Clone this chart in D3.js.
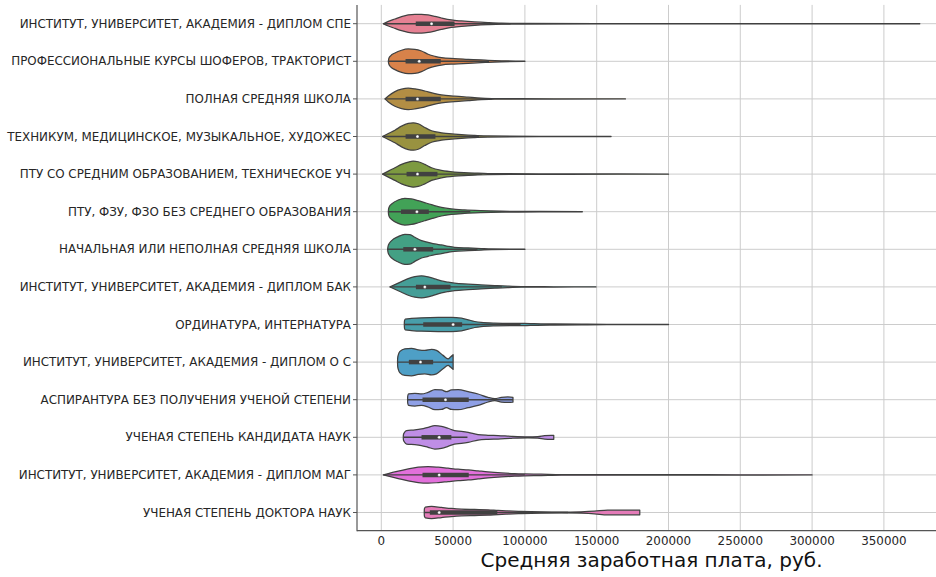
<!DOCTYPE html>
<html><head><meta charset="utf-8">
<script src="https://cdn.jsdelivr.net/npm/d3@7/dist/d3.min.js"></script>
<style>html,body{margin:0;padding:0;background:#fff}svg{display:block}</style>
</head><body>
<svg id="chart" width="936" height="577"></svg>
<script>
// ---------------- DATA ----------------
const categories = [
  "ИНСТИТУТ, УНИВЕРСИТЕТ, АКАДЕМИЯ - ДИПЛОМ СПЕ",
  "ПРОФЕССИОНАЛЬНЫЕ КУРСЫ ШОФЕРОВ, ТРАКТОРИСТ",
  "ПОЛНАЯ СРЕДНЯЯ ШКОЛА",
  "ТЕХНИКУМ, МЕДИЦИНСКОЕ, МУЗЫКАЛЬНОЕ, ХУДОЖЕС",
  "ПТУ СО СРЕДНИМ ОБРАЗОВАНИЕМ, ТЕХНИЧЕСКОЕ УЧ",
  "ПТУ, ФЗУ, ФЗО БЕЗ СРЕДНЕГО ОБРАЗОВАНИЯ",
  "НАЧАЛЬНАЯ ИЛИ НЕПОЛНАЯ СРЕДНЯЯ ШКОЛА",
  "ИНСТИТУТ, УНИВЕРСИТЕТ, АКАДЕМИЯ - ДИПЛОМ БАК",
  "ОРДИНАТУРА, ИНТЕРНАТУРА",
  "ИНСТИТУТ, УНИВЕРСИТЕТ, АКАДЕМИЯ - ДИПЛОМ О С",
  "АСПИРАНТУРА БЕЗ ПОЛУЧЕНИЯ УЧЕНОЙ СТЕПЕНИ",
  "УЧЕНАЯ СТЕПЕНЬ КАНДИДАТА НАУК",
  "ИНСТИТУТ, УНИВЕРСИТЕТ, АКАДЕМИЯ - ДИПЛОМ МАГ",
  "УЧЕНАЯ СТЕПЕНЬ ДОКТОРА НАУК"
];

// density profiles: [salary, relative density]
const densityProfiles = [
  [[1400,0],[4900,2.3],[9500,4.7],[14100,7],[18750,8.7],[23400,9.3],[28000,9.3],[32600,8.7],[37300,7.3],[41900,5.7],[48800,3.7],[55800,2.7],[65000,1.7],[74300,1],[83600,0.5],[97500,0.3],[150000,0.15],[250000,0.1],[375000,0.05]],
  [[4900,0],[5300,3],[6500,5.5],[9500,8.3],[14100,11],[18750,12.3],[23400,12],[28000,10.3],[32600,7],[37300,5],[41900,3.7],[51000,2.7],[60500,2],[69500,1.3],[74300,1],[83600,0.5],[100000,0.1]],
  [[2500,0],[4900,3],[9500,7.3],[14100,9.7],[18750,10.7],[23400,10],[28000,8.7],[32600,7],[37300,5.3],[41900,4],[51000,2.7],[60500,1.7],[69500,0.8],[79000,0.3],[120000,0.12],[170000,0.05]],
  [[900,0],[4900,3],[9500,6.3],[14100,10.3],[18750,13],[22200,13.7],[25700,12.7],[30300,9],[35000,5.7],[41900,3.7],[51000,2.3],[60500,1.3],[65000,1],[74300,0.5],[110000,0.12],[160000,0.05]],
  [[900,0],[4900,3],[9500,6.3],[14100,9.7],[18750,12],[22200,13],[25700,12.3],[30300,9.7],[35000,6.3],[41900,3.7],[51000,2],[60500,1.3],[65000,1],[74300,0.5],[130000,0.15],[200000,0.08]],
  [[4900,0],[5100,3],[5900,5.8],[7200,7.7],[11800,11.7],[16400,13.3],[21000,12.7],[25700,11],[30300,9],[35000,7],[41900,4.3],[48800,2.7],[58100,1.7],[69500,1],[83600,0.5],[110000,0.2],[140000,0.08]],
  [[4400,0],[4700,3],[5600,6],[7200,8.7],[11800,12.7],[16400,15],[19900,14.7],[23400,12],[28000,8.7],[32600,7],[37300,5.3],[41900,4.3],[46500,3],[51000,2],[60500,1.3],[69500,0.7],[76600,0.3],[100000,0.08]],
  [[6000,0],[9500,2.3],[14100,5.3],[18750,8.3],[23400,10.3],[28000,11],[32600,10],[37300,8],[41900,6],[46500,4.7],[51000,3.7],[60500,2.7],[69500,2],[79000,1.3],[88000,0.7],[97500,0.3],[120000,0.15],[149500,0.05]],
  [[16000,0],[16150,3.5],[16700,5.3],[21000,6],[28000,6.7],[39600,7],[48800,7],[55800,6.3],[60500,4.7],[65000,3],[69500,2],[79000,1.3],[92800,1],[99700,1.2],[106500,0.8],[120500,0.5],[143700,0.3],[170000,0.2],[200000,0.08]],
  [[11300,0],[11400,4],[11900,7.5],[13000,10.7],[16400,13.3],[21000,13.7],[25700,12.3],[30300,11.7],[35000,12.7],[38400,11.7],[43000,6.7],[46500,3.3],[48200,5],[50000,7.3]],
  [[18300,0],[18400,3.5],[19000,5.7],[23400,6.3],[28000,5.7],[32600,7.3],[37300,10],[41900,9.7],[45400,8],[48800,9.7],[53500,10],[60500,8],[67400,5.7],[74300,2.3],[79000,1],[83600,2.3],[88200,2.7],[91700,2.3]],
  [[15300,0],[15400,2.5],[16000,4.5],[17600,6.7],[23400,7.3],[28000,8.3],[32600,10],[37300,11.7],[41900,11],[46500,9],[51000,6.7],[55800,6],[60500,5],[67400,2.7],[74300,2],[81300,1.7],[90500,1],[102100,0.5],[109000,0.7],[113700,1.7],[118300,2],[120100,2]],
  [[1400,0],[4900,1.3],[11800,3.7],[18750,6],[25700,7.7],[32600,8.3],[39600,7.7],[46500,6.7],[53500,5.7],[60500,5],[67400,4],[74300,3],[83600,2],[92800,1.3],[99700,1],[111300,0.7],[125200,0.3],[150000,0.25],[200000,0.2],[250000,0.15],[300000,0.08]],
  [[29900,0],[30000,3.5],[30700,5.3],[35000,6],[41900,5],[48800,4],[55800,3.3],[65000,3],[74300,2.7],[81300,2],[88200,1.5],[97500,1],[111300,0.5],[125200,0.3],[139100,0.7],[148400,1.3],[157600,2.3],[164600,2.3],[169200,2.3],[180000,2.3]]
];

const q1Values     = [24000, 16900, 16900, 16900, 17600, 13700, 15300, 24100, 29200, 19200, 28700, 28000, 28700, 33800];
const medianValues = [35000, 26400, 25200, 25200, 25200, 24800, 23400, 30300, 50000, 27300, 44700, 40300, 40300, 40300];
const q3Values     = [51000, 41400, 41400, 37700, 39100, 33100, 36100, 48200, 56300, 36100, 60900, 48800, 60900, 80800];
const whiskerLow   = [1400, 4900, 2500, 900, 900, 4900, 4400, 6000, 16000, 11300, 18300, 15300, 1400, 29900];
const whiskerHigh  = [90000, 75000, 77000, 68000, 70000, 62000, 67000, 84000, 97000, 50000, 91700, 60000, 100000, 130000];

const xTicks = [0, 50000, 100000, 150000, 200000, 250000, 300000, 350000];
const xLabel = "Средняя заработная плата, руб.";

// ---------------- COLOURS (seaborn husl palette, desaturated 0.75) ----------------
const M = [[3.240969941904521,-1.537383177570093,-0.498610760293],
           [-0.96924363628087,1.87596750150772,0.041555057407175],
           [0.055630079696993,-0.20397695888897,1.056971514242878]];
const refU = 0.19783000664283, refV = 0.46831999493879, kappa = 903.2962962, eps = 0.0088564516;
function bounds(L){
  const sub1 = Math.pow(L+16,3)/1560896, sub2 = sub1 > eps ? sub1 : L/kappa, out=[];
  for (const [m1,m2,m3] of M) for (const t of [0,1]) {
    const top1=(284517*m1-94839*m3)*sub2;
    const top2=(838422*m3+769860*m2+731718*m1)*L*sub2-769860*t*L;
    const bottom=(632260*m3-126452*m2)*sub2+126452*t;
    out.push([top1/bottom, top2/bottom]);
  }
  return out;
}
function maxChroma(L,H){
  const hr=H/360*Math.PI*2; let mn=Infinity;
  for (const [m,b] of bounds(L)){ const len=b/(Math.sin(hr)-m*Math.cos(hr)); if(len>=0) mn=Math.min(mn,len); }
  return mn;
}
function husl(h,s,l){
  const C = maxChroma(l,h)/100*s, hr=h/360*Math.PI*2;
  const u=C*Math.cos(hr), v=C*Math.sin(hr);
  const vu=u/(13*l)+refU, vv=v/(13*l)+refV;
  const Y = l<=8 ? l/kappa : Math.pow((l+16)/116,3);
  const X = -(9*Y*vu)/((vu-4)*vv - vu*vv);
  const Z = (9*Y - 15*vv*Y - vv*X)/(3*vv);
  const f=c=> c<=0.0031308 ? 12.92*c : 1.055*Math.pow(c,1/2.4)-0.055;
  return M.map(r=>Math.max(0,Math.min(1,f(r[0]*X+r[1]*Y+r[2]*Z))));
}
const colors = categories.map((_,i)=>{
  const h = ((i/categories.length)+0.01)%1*359;
  const [r,g,b] = husl(h, 0.9*99, 0.65*99);
  const c = d3.hsl(d3.rgb(r*255,g*255,b*255));
  c.s *= 0.75;
  return c;
});
const minL = d3.min(colors, c=>c.l);
const gv = Math.round(minL*0.6*255);
const gray = d3.rgb(gv,gv,gv).formatHex();

// ---------------- LAYOUT ----------------
const svg = d3.select("#chart");
const plotLeft = 357, plotRight = 946, plotTop = 4.9, plotBottom = 531.3;
const x = d3.scaleLinear().domain([-16920, 393250]).range([plotLeft, plotRight]);
const y = d3.scaleBand().domain(categories).range([plotTop, plotBottom]).paddingInner(0).paddingOuter(0);
const bw = y.bandwidth();
const dens = d3.scaleLinear().domain([0, 15]).range([0, 0.4*bw]);
const cy = c => y(c) + bw/2;
const textColor = "#262626";

svg.append("defs").append("clipPath").attr("id","plotclip")
  .append("rect").attr("x",plotLeft).attr("y",0).attr("width",936-plotLeft).attr("height",plotBottom);

// grid
const grid = svg.append("g").attr("clip-path","url(#plotclip)");
grid.selectAll("line.vg").data(xTicks).join("line")
  .attr("x1",d=>x(d)).attr("x2",d=>x(d)).attr("y1",plotTop).attr("y2",plotBottom)
  .attr("stroke","#cccccc").attr("stroke-width",1);
grid.selectAll("line.hg").data(categories).join("line")
  .attr("x1",plotLeft).attr("x2",plotRight).attr("y1",d=>cy(d)).attr("y2",d=>cy(d))
  .attr("stroke","#cccccc").attr("stroke-width",1);

// violins
const vg = svg.append("g").attr("clip-path","url(#plotclip)");
categories.forEach((cat,i)=>{
  const c = cy(cat);
  const area = d3.area().curve(d3.curveMonotoneX)
    .x(d=>x(d[0])).y0(d=>c+dens(d[1])).y1(d=>c-dens(d[1]));
  vg.append("path").attr("d", area(densityProfiles[i]))
    .attr("fill", colors[i].formatHex()).attr("stroke", gray).attr("stroke-width",1.25)
    .attr("stroke-linejoin","round");
  vg.append("line").attr("x1",x(whiskerLow[i])).attr("x2",x(whiskerHigh[i]))
    .attr("y1",c).attr("y2",c).attr("stroke",gray).attr("stroke-width",1.4);
  vg.append("line").attr("x1",x(q1Values[i])).attr("x2",x(q3Values[i]))
    .attr("y1",c).attr("y2",c).attr("stroke",gray).attr("stroke-width",4.5);
  vg.append("circle").attr("cx",x(medianValues[i])).attr("cy",c).attr("r",1.5)
    .attr("fill","#fff").attr("stroke",gray).attr("stroke-width",0.3);
});

// spines
svg.append("line").attr("x1",plotLeft).attr("x2",plotLeft).attr("y1",plotTop).attr("y2",plotBottom)
  .attr("stroke","#555").attr("stroke-width",1.2);
svg.append("line").attr("x1",plotLeft).attr("x2",936).attr("y1",plotBottom-0.6).attr("y2",plotBottom-0.6)
  .attr("stroke","#555").attr("stroke-width",1.2);

// y axis ticks + labels
const yAxis = svg.append("g");
yAxis.selectAll("line").data(categories).join("line")
  .attr("x1",plotLeft-4).attr("x2",plotLeft).attr("y1",d=>cy(d)).attr("y2",d=>cy(d))
  .attr("stroke","#555").attr("stroke-width",1);
yAxis.selectAll("text").data(categories).join("text")
  .attr("x",plotLeft-6).attr("y",d=>cy(d)).attr("dy","0.35em")
  .attr("text-anchor","end").attr("font-family","DejaVu Sans").attr("font-size",11.9)
  .attr("fill",textColor).text(d=>d);

// x tick labels
svg.append("g").selectAll("text").data(xTicks).join("text")
  .attr("x",d=>x(d)).attr("y",545).attr("text-anchor","middle")
  .attr("font-family","DejaVu Sans").attr("font-size",11.9).attr("fill",textColor)
  .text(d=>d3.format("d")(d));

// x label
svg.append("text").attr("x",(plotLeft+plotRight)/2).attr("y",567).attr("text-anchor","middle")
  .attr("font-family","DejaVu Sans").attr("font-size",20).attr("fill","#111").text(xLabel);
</script>
</body></html>
